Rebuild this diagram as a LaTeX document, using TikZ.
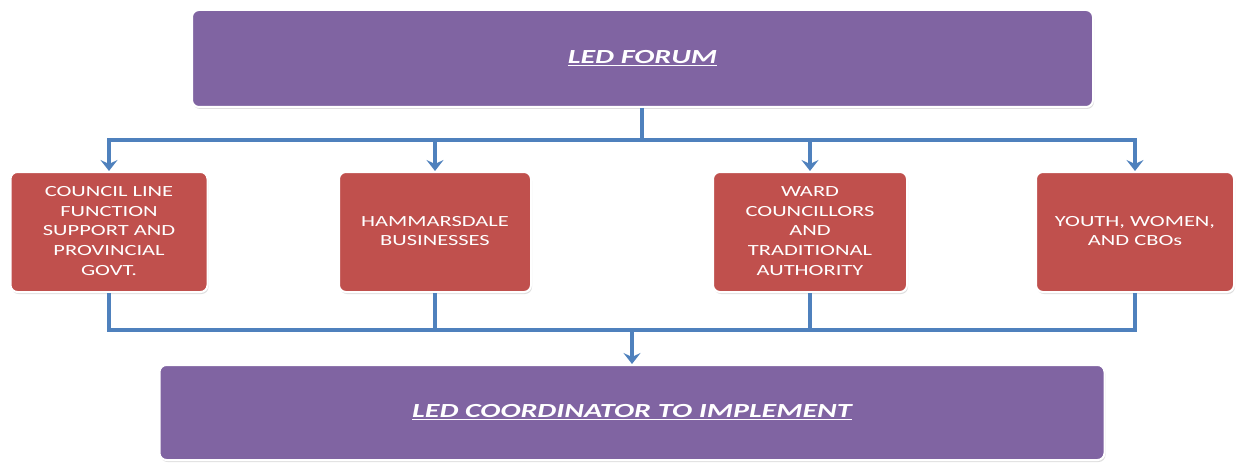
\documentclass[tikz,border=0pt]{standalone}
\usepackage{fontspec}
\setmainfont{Carlito}
\usetikzlibrary{arrows.meta,shadows}
\definecolor{boxpurple}{HTML}{8064A2}
\definecolor{boxred}{HTML}{C0504D}
\definecolor{lineblue}{HTML}{4F81BD}
\newcommand{\widetext}[1]{\scalebox{1.45}[1]{\begin{tabular}{@{}c@{}}#1\end{tabular}}}
\tikzset{
  purplebox/.style={rectangle, rounded corners=7pt, fill=boxpurple, draw=white, line width=2pt,
    drop shadow={shadow xshift=1pt, shadow yshift=-2pt, opacity=0.25}, inner sep=0pt},
  redbox/.style={rectangle, rounded corners=7pt, fill=boxred, draw=white, line width=2pt,
    drop shadow={shadow xshift=1pt, shadow yshift=-2pt, opacity=0.25},
    minimum height=120pt, text=white, font=\fontsize{15.5}{19.8}\selectfont, align=center, inner sep=0pt},
  titletext/.style={text=white, font=\fontsize{20}{24}\selectfont\bfseries\itshape},
  conn/.style={draw=lineblue, line width=4pt},
  arr/.style={conn, -{Stealth[width=17pt,length=11pt,inset=4pt]}},
}
\begin{document}
\begin{tikzpicture}[x=1pt,y=-1pt]
\useasboundingbox (0,0) rectangle (1242,468);
% top and bottom boxes
\node[purplebox, minimum width=901pt, minimum height=97pt] (top) at (642.5,58.5) {};
\node[titletext] (toptext) at (642.5,58) {\scalebox{1.5}[1]{\underline{LED FORUM}}};
\node[purplebox, minimum width=945pt, minimum height=95pt] (bot) at (632,412.5) {};
\node[titletext] (bottext) at (632,412) {\scalebox{1.5}[1]{\underline{LED COORDINATOR TO IMPLEMENT}}};
% red boxes
\node[redbox, minimum width=197pt] (b1) at (109,232) {\widetext{COUNCIL LINE\\FUNCTION\\SUPPORT AND\\PROVINCIAL\\GOVT.}};
\node[redbox, minimum width=192pt] (b2) at (435,232) {\widetext{HAMMARSDALE\\BUSINESSES}};
\node[redbox, minimum width=194pt] (b3) at (810,232) {\widetext{WARD\\COUNCILLORS\\AND\\TRADITIONAL\\AUTHORITY}};
\node[redbox, minimum width=198pt] (b4) at (1135,232) {\widetext{YOUTH, WOMEN,\\AND CBOs}};
% connectors
\coordinate (j1) at (642,140);
\coordinate (j2) at (632,330);
\draw[conn] (top.south -| j1) -- (j1);
\draw[arr] (j1) -| (b1.north);
\draw[arr] (j1) -| (b2.north);
\draw[arr] (j1) -| (b3.north);
\draw[arr] (j1) -| (b4.north);
\draw[conn] (b1.south) |- (j2);
\draw[conn] (b2.south) |- (j2);
\draw[conn] (b3.south) |- (j2);
\draw[conn] (b4.south) |- (j2);
\draw[arr] (j2) -- (bot.north);
\end{tikzpicture}
\end{document}
